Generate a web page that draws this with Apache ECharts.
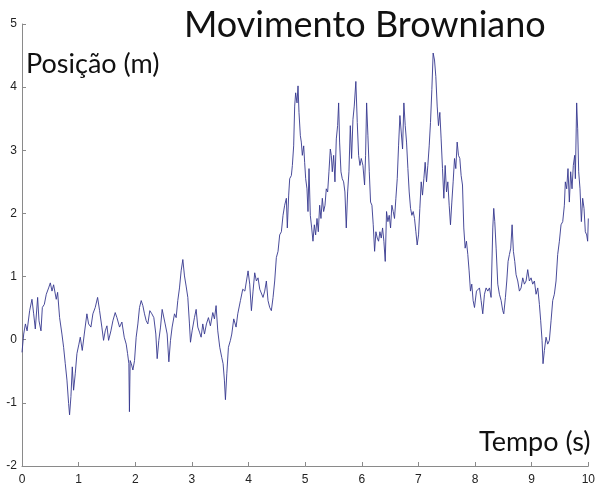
<!DOCTYPE html>
<html>
<head>
<meta charset="utf-8">
<script src="https://cdn.jsdelivr.net/npm/echarts@6/dist/echarts.min.js"></script>
<style>
html,body{margin:0;padding:0;background:#fff;}
#chart{width:598px;height:486px;}
</style>
</head>
<body>
<div id="chart"></div>
<script>
var titleText = "Movimento Browniano";
var yName = "Posição (m)";
var xName = "Tempo (s)";
var xTicks = [0,1,2,3,4,5,6,7,8,9,10];
var yTicks = [-2,-1,0,1,2,3,4,5];

var times = [
0.00,0.03,0.06,0.09,0.135,0.176,0.206,0.235,0.276,0.30,0.335,0.359,0.394,0.429,0.47,0.50,0.53,0.558,0.605,0.629,0.664,0.705,0.735,0.764,0.794,0.823,0.84,0.864,0.888,0.911,0.94,0.97,
1.005,1.029,1.064,1.10,1.146,1.176,1.217,1.252,1.293,1.335,1.37,1.41,1.44,1.47,1.50,1.529,1.57,1.605,1.646,1.676,1.723,1.764,1.805,1.84,1.864,1.887,1.897,
1.91,1.93,1.958,1.987,2.016,2.046,2.075,2.105,2.134,2.163,2.193,2.222,2.257,2.293,2.328,2.363,2.387,2.416,2.446,2.475,2.504,2.528,2.563,2.593,2.622,2.651,2.693,2.722,2.751,2.781,2.81,2.84,2.869,2.898,2.928,2.957,2.975,
3.004,3.045,3.075,3.104,3.134,3.163,3.192,3.222,3.257,3.292,3.327,3.369,3.398,3.427,3.457,3.492,3.527,3.551,3.574,3.592,3.616,3.645,3.68,3.704,3.739,3.78,3.81,3.857,3.898,3.935,3.962,3.992,
4.021,4.051,4.08,4.109,4.139,4.168,4.198,4.227,4.256,4.286,4.315,4.344,4.374,4.403,4.433,4.462,4.491,4.521,4.55,4.58,4.609,4.638,4.668,4.685,4.709,4.727,4.756,4.774,4.797,4.815,4.832,4.856,4.874,4.891,4.915,4.932,4.95,4.974,4.991,
5.009,5.032,5.05,5.068,5.091,5.115,5.138,5.162,5.185,5.209,5.232,5.256,5.279,5.303,5.326,5.35,5.373,5.397,5.42,5.444,5.462,5.479,5.503,5.526,5.55,5.573,5.591,5.608,5.632,5.655,5.679,5.702,5.726,5.75,5.773,5.797,5.82,5.844,5.867,5.895,5.92,5.944,5.967,5.991,
6.02,6.049,6.067,6.085,6.108,6.132,6.155,6.179,6.202,6.226,6.249,6.273,6.296,6.32,6.343,6.367,6.39,6.414,6.437,6.461,6.484,6.508,6.531,6.555,6.578,6.602,6.626,6.649,6.673,6.696,6.72,6.743,6.767,6.79,6.814,6.837,6.861,6.884,6.908,6.931,6.955,6.978,
7.002,7.025,7.049,7.072,7.096,7.119,7.143,7.166,7.19,7.213,7.237,7.26,7.284,7.307,7.331,7.354,7.378,7.401,7.425,7.449,7.472,7.496,7.519,7.543,7.566,7.59,7.613,7.637,7.66,7.684,7.707,7.731,7.754,7.778,7.801,7.825,7.848,7.872,7.895,7.919,7.942,7.966,7.99,
8.025,8.078,8.107,8.136,8.166,8.195,8.225,8.254,8.283,8.313,8.33,8.348,8.372,8.401,8.43,8.46,8.489,8.507,8.536,8.56,8.583,8.607,8.63,8.654,8.677,8.701,8.724,8.754,8.783,8.813,8.842,8.871,8.901,8.93,8.959,8.989,
9.018,9.048,9.077,9.107,9.136,9.159,9.183,9.20,9.224,9.253,9.283,9.312,9.342,9.371,9.40,9.43,9.459,9.489,9.518,9.548,9.577,9.594,9.618,9.641,9.665,9.688,9.712,9.735,9.759,9.771,9.794,9.812,9.83,9.853,9.877,9.90,9.924,9.947,9.971,9.988,10.0
];

var positions = [
-0.20,0.09,0.25,0.14,0.46,0.64,0.41,0.17,0.67,0.30,0.14,0.51,0.56,0.72,0.82,0.90,0.77,0.87,0.64,0.75,0.35,0.09,-0.12,-0.38,-0.64,-1.01,-1.19,-0.90,-0.43,-0.80,-0.54,-0.22,
-0.07,0.04,-0.17,0.09,0.41,0.25,0.20,0.41,0.51,0.67,0.46,0.20,-0.01,0.14,0.22,-0.01,0.14,0.30,0.43,0.35,0.20,0.28,0.04,-0.07,-0.22,-0.38,-1.14,
-0.33,-0.38,-0.48,-0.33,0.04,0.25,0.51,0.62,0.54,0.41,0.30,0.25,0.46,0.41,0.35,0.09,-0.30,-0.01,0.20,0.48,0.46,0.25,0.09,-0.35,-0.01,0.20,0.41,0.35,0.62,0.82,1.09,1.27,1.01,0.85,0.67,0.25,-0.04,
0.14,0.35,0.48,0.20,0.12,0.04,0.25,0.09,0.25,0.35,0.22,0.43,0.33,0.54,0.14,-0.12,-0.28,-0.38,-0.64,-0.95,-0.54,-0.12,-0.01,0.09,0.33,0.20,0.41,0.62,0.80,0.77,0.77,1.09,
0.88,0.46,0.77,1.06,0.93,0.98,0.80,0.77,0.67,0.77,0.93,0.62,0.51,0.46,0.67,0.93,1.30,1.40,1.66,1.71,1.97,2.13,2.24,1.77,2.29,2.55,2.60,2.76,3.07,3.70,3.91,3.75,4.02,3.60,3.23,3.13,2.92,3.07,2.81,
2.55,2.39,2.03,2.71,1.97,1.77,1.56,1.82,1.66,1.92,1.71,2.13,1.92,2.24,2.03,2.13,2.39,2.34,2.66,3.02,2.92,2.66,2.92,2.50,3.18,3.39,3.75,3.13,2.66,2.55,2.50,2.34,1.77,2.34,2.66,3.39,2.87,3.49,3.70,4.09,3.44,2.92,2.76,2.87,
2.76,2.45,2.92,3.75,3.23,2.66,2.18,2.13,1.82,1.40,1.71,1.61,1.56,1.71,1.61,1.77,1.56,1.24,2.03,1.87,1.97,1.77,2.13,2.03,1.92,2.24,2.55,3.07,3.55,3.29,3.02,3.75,3.39,3.13,2.71,2.34,2.08,1.97,2.03,1.92,1.71,1.50,
1.66,2.08,2.50,2.29,2.55,2.81,2.50,2.76,3.07,3.44,3.96,4.54,4.43,4.17,3.70,3.39,3.60,3.18,2.71,2.24,2.76,2.34,2.50,2.13,1.82,2.18,2.50,2.87,2.71,3.13,2.92,2.87,2.60,2.45,1.77,1.45,1.56,1.35,1.09,0.77,0.88,0.62,0.51,
0.77,0.82,0.62,0.41,0.72,0.82,0.77,0.82,0.67,1.77,2.08,1.87,1.45,0.88,0.72,0.62,0.46,0.41,0.67,0.93,1.24,1.35,1.45,1.82,1.40,1.24,1.03,0.93,0.77,0.82,0.98,0.88,0.93,1.11,0.93,0.98,
0.88,0.93,0.72,0.82,0.56,0.30,-0.01,-0.38,-0.17,0.04,-0.07,-0.01,0.30,0.62,0.72,0.93,1.35,1.56,1.82,1.87,2.13,2.50,2.39,2.71,2.18,2.66,2.39,2.76,2.92,2.55,3.75,3.34,2.66,2.39,1.87,2.24,2.08,1.71,1.66,1.56,1.92
];

var seriesData = times.map(function (t, i) { return [t, positions[i]]; });

var chart = echarts.init(document.getElementById('chart'), null, {renderer: 'canvas'});
var axisColor = '#8a8a8a';
var labelStyle = {color: '#222', fontFamily: 'Arial, "Liberation Sans", sans-serif', fontSize: 12};

chart.setOption({
  animation: false,
  backgroundColor: '#ffffff',
  grid: {left: 22, right: 9, top: 24, bottom: 16, containLabel: false},
  xAxis: {
    type: 'value',
    min: xTicks[0], max: xTicks[xTicks.length - 1], interval: 1,
    axisLine: {show: true, onZero: false, lineStyle: {color: axisColor, width: 1}},
    axisTick: {show: true, inside: true, length: 4, lineStyle: {color: axisColor}},
    axisLabel: Object.assign({margin: 8}, labelStyle),
    splitLine: {show: false}
  },
  yAxis: {
    type: 'value',
    min: yTicks[0], max: yTicks[yTicks.length - 1], interval: 1,
    axisLine: {show: true, onZero: false, lineStyle: {color: axisColor, width: 1}},
    axisTick: {show: true, inside: true, length: 4, lineStyle: {color: axisColor}},
    axisLabel: Object.assign({margin: 5}, labelStyle),
    splitLine: {show: false}
  },
  graphic: [
    {type: 'text', left: 184, top: 7, style: {text: titleText, font: '36px Lato, "Open Sans", sans-serif', fill: '#111'}},
    {type: 'text', left: 26, top: 51, style: {text: yName, font: '27px Lato, "Open Sans", sans-serif', fill: '#111'}},
    {type: 'text', left: 479, top: 429, style: {text: xName, font: '27px Lato, "Open Sans", sans-serif', fill: '#111'}}
  ],
  series: [{
    type: 'line',
    data: seriesData,
    showSymbol: false,
    symbol: 'none',
    lineStyle: {color: '#35388f', width: 0.9},
    z: 1
  }]
});
</script>
</body>
</html>
